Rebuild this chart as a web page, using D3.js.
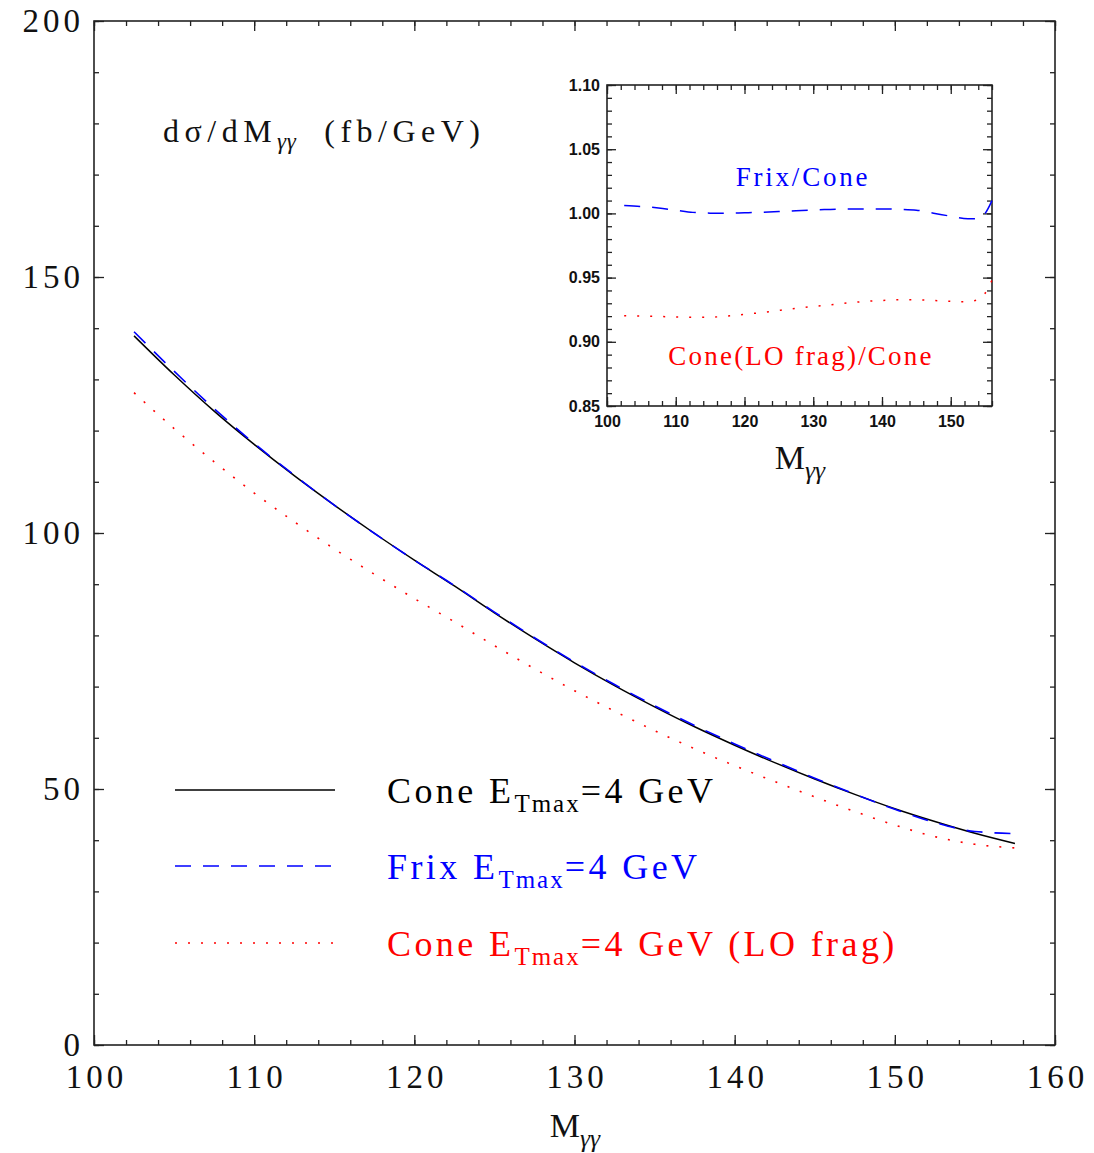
<!DOCTYPE html>
<html>
<head>
<meta charset="utf-8">
<script src="https://cdn.jsdelivr.net/npm/d3@7"></script>
<style>
  body { margin: 0; background: #fff; }
  svg { display: block; }
</style>
</head>
<body>
<svg id="chart" width="1094" height="1153"></svg>
<script>
// Diphoton invariant-mass distribution, three isolation prescriptions (fb/GeV)
const masses = [102.5, 105, 107.5, 110, 112.5, 115, 117.5, 120, 122.5, 125, 127.5, 130,
                132.5, 135, 137.5, 140, 142.5, 145, 147.5, 150, 152.5, 155, 157.5];
const coneXsec = [138.5, 130.9, 123.8, 117.3, 111.2, 105.45, 99.95, 94.7, 89.65, 84.4, 79.4, 74.65,
                  70.2, 66.05, 62.15, 58.55, 55.15, 51.95, 48.95, 46.15, 43.65, 41.35, 39.35];
const frixXsec = [139.3, 131.6, 124.3, 117.5, 111.3, 105.45, 99.95, 94.7, 89.75, 84.55, 79.55, 74.8,
                  70.4, 66.25, 62.4, 58.8, 55.4, 52.1, 49.0, 46.05, 43.45, 41.7, 41.3];
const loFragXsec = [127.4, 120.4, 113.9, 107.8, 102.2, 96.9, 91.95, 87.2, 82.65, 78.0, 73.5, 69.2,
                    65.2, 61.4, 57.85, 54.55, 51.45, 48.45, 45.6, 42.95, 40.7, 39.2, 38.5];

// Ratios to the cone result
const ratioMasses = [102.5, 105, 107.5, 110, 112.5, 115, 117.5, 120, 122.5, 125, 127.5, 130,
                     132.5, 135, 137.5, 140, 142.5, 145, 147.5, 150, 152.5, 154, 155, 156];
const frixRatio = [1.0062, 1.0054, 1.0042, 1.0025, 1.0008, 1.0002, 1.0001, 1.0005, 1.0009, 1.0014, 1.0021, 1.0027,
                   1.0031, 1.0034, 1.0035, 1.0035, 1.0031, 1.0025, 1.0002, 0.9978, 0.9958, 0.9960, 1.0000, 1.0100];
const loFragRatio = [0.9203, 0.9200, 0.9197, 0.9194, 0.9191, 0.9192, 0.9200, 0.9214, 0.9228, 0.9244, 0.9260, 0.9275,
                     0.9288, 0.9303, 0.9314, 0.9322, 0.9327, 0.9327, 0.9322, 0.9315, 0.9312, 0.9330, 0.9378, 0.9480];

const mainXTicks = [100, 110, 120, 130, 140, 150, 160];
const mainYTicks = [0, 50, 100, 150, 200];
const insetXTicks = [100, 110, 120, 130, 140, 150];
const insetYTicks = [0.85, 0.90, 0.95, 1.00, 1.05, 1.10];

const svg = d3.select("#chart");
const serif = "'Liberation Serif', 'Times New Roman', serif";

// Framed panel with inward ticks on all four sides
function drawFrame(g, x, y, opt) {
  const [x0, x1] = x.range();
  const [y0, y1] = y.range(); // y0 bottom, y1 top
  const xMinor = d3.range(x.domain()[0], x.domain()[1] + 1e-9, opt.xMinorStep);
  const yMinor = d3.range(y.domain()[0], y.domain()[1] + 1e-9, opt.yMinorStep);

  const sides = [
    { ax: d3.axisBottom, sc: x, t: `translate(0,${y0})`, major: opt.xTicks, minor: xMinor, labels: true },
    { ax: d3.axisTop, sc: x, t: `translate(0,${y1})`, major: opt.xTicks, minor: xMinor, labels: false },
    { ax: d3.axisLeft, sc: y, t: `translate(${x0},0)`, major: opt.yTicks, minor: yMinor, labels: true },
    { ax: d3.axisRight, sc: y, t: `translate(${x1},0)`, major: opt.yTicks, minor: yMinor, labels: false }
  ];
  sides.forEach((s, i) => {
    const minorG = g.append("g").attr("transform", s.t)
      .call(s.ax(s.sc).tickValues(s.minor).tickSize(-opt.minorLen).tickFormat(""));
    minorG.select(".domain").remove();
    const isX = i < 2;
    const majorG = g.append("g").attr("transform", s.t)
      .call(s.ax(s.sc).tickValues(s.major).tickSize(-opt.majorLen)
        .tickPadding(isX ? opt.xPad : opt.yPad)
        .tickFormat(s.labels ? (isX ? opt.xFmt : opt.yFmt) : ""));
    majorG.select(".domain").remove();
    g.selectAll(".tick line").attr("stroke", "#222").attr("stroke-width", 1.3);
    majorG.selectAll("text")
      .attr("font-family", opt.font).attr("font-size", opt.fontSize)
      .attr("font-weight", opt.fontWeight).attr("fill", "#111")
      .attr("letter-spacing", opt.letterSpacing);
    if (isX && opt.letterSpacing) {
      // keep spaced labels centred on their ticks
      majorG.selectAll("text").attr("dx", opt.letterSpacing / 2);
    }
  });
  g.append("rect").attr("x", x0).attr("y", y1)
    .attr("width", x1 - x0).attr("height", y0 - y1)
    .attr("fill", "none").attr("stroke", "#222").attr("stroke-width", 1.6);
}

// ---------- main panel ----------
const x = d3.scaleLinear().domain([100, 160]).range([94, 1055]);
const y = d3.scaleLinear().domain([0, 200]).range([1045, 21]);
const mainG = svg.append("g");
drawFrame(mainG, x, y, {
  xTicks: mainXTicks, yTicks: mainYTicks, xMinorStep: 2, yMinorStep: 10,
  majorLen: 10, minorLen: 5, xPad: 20, yPad: 10,
  xFmt: d3.format("d"), yFmt: d3.format("d"),
  font: serif, fontSize: 33, fontWeight: "normal", letterSpacing: 4
});

const line = d3.line().x(d => x(d[0])).y(d => y(d[1])).curve(d3.curveMonotoneX);
const series = [
  { values: coneXsec, color: "#000", dash: null, width: 1.5 },
  { values: frixXsec, color: "#0000ff", dash: "16,12", width: 1.6 },
  { values: loFragXsec, color: "#ff0000", dash: "2,11", width: 1.6 }
];
series.forEach(s => {
  mainG.append("path")
    .datum(masses.map((m, i) => [m, s.values[i]]))
    .attr("d", line).attr("fill", "none")
    .attr("stroke", s.color).attr("stroke-width", s.width)
    .attr("stroke-dasharray", s.dash);
});

// y-axis title inside the panel
const title = mainG.append("text").attr("x", 163).attr("y", 142)
  .attr("font-family", serif).attr("font-size", 32).attr("letter-spacing", 5.5).attr("fill", "#111");
title.append("tspan").text("dσ/dM");
title.append("tspan").attr("font-size", 23).attr("font-style", "italic").attr("dy", 7).attr("letter-spacing", 0.5).text("γγ");
title.append("tspan").attr("dy", -7).attr("dx", 28).text("(fb/GeV)");

// axis titles M_γγ
function massLabel(g, cx, baseline, size) {
  const t = g.append("text").attr("x", cx).attr("y", baseline).attr("text-anchor", "middle")
    .attr("font-family", serif).attr("font-size", size).attr("fill", "#111");
  t.append("tspan").text("M");
  t.append("tspan").attr("font-size", size * 0.75).attr("font-style", "italic").attr("dy", size * 0.28).text("γγ");
}
massLabel(mainG, 575, 1137, 34);

// legend
const legendRows = [
  { y: 790, color: "#000", dash: null, name: "Cone E", tail: "=4 GeV" },
  { y: 866, color: "#0000ff", dash: "16,12", name: "Frix E", tail: "=4 GeV" },
  { y: 943, color: "#ff0000", dash: "2,11", name: "Cone E", tail: "=4 GeV (LO frag)" }
];
legendRows.forEach(r => {
  mainG.append("line").attr("x1", 175).attr("x2", 335).attr("y1", r.y).attr("y2", r.y)
    .attr("stroke", r.color).attr("stroke-width", 1.6).attr("stroke-dasharray", r.dash);
  const t = mainG.append("text").attr("x", 387).attr("y", r.y + 13)
    .attr("font-family", serif).attr("font-size", 36).attr("letter-spacing", 3.4).attr("fill", r.color);
  t.append("tspan").text(r.name);
  t.append("tspan").attr("font-size", 25).attr("dy", 9).attr("letter-spacing", 2).text("Tmax");
  t.append("tspan").attr("dy", -9).text(r.tail);
});

// ---------- inset: ratios to the cone prescription ----------
const xi = d3.scaleLinear().domain([100, 156]).range([607, 992]);
const yi = d3.scaleLinear().domain([0.85, 1.10]).range([406, 85]);
const insetG = svg.append("g");
insetG.append("rect").attr("x", 607).attr("y", 85).attr("width", 385).attr("height", 321).attr("fill", "#fff");
drawFrame(insetG, xi, yi, {
  xTicks: insetXTicks, yTicks: insetYTicks, xMinorStep: 2, yMinorStep: 0.01,
  majorLen: 9, minorLen: 5, xPad: 10, yPad: 7,
  xFmt: d3.format("d"), yFmt: d3.format(".2f"),
  font: "'Liberation Sans', Arial, sans-serif", fontSize: 16, fontWeight: "bold", letterSpacing: 0
});

const lineI = d3.line().x(d => xi(d[0])).y(d => yi(d[1])).curve(d3.curveMonotoneX);
[
  { values: frixRatio, color: "#0000ff", dash: "16,12" },
  { values: loFragRatio, color: "#ff0000", dash: "2,11" }
].forEach(s => {
  insetG.append("path")
    .datum(ratioMasses.map((m, i) => [m, s.values[i]]))
    .attr("d", lineI).attr("fill", "none")
    .attr("stroke", s.color).attr("stroke-width", 1.5)
    .attr("stroke-dasharray", s.dash);
});

insetG.append("text").attr("x", 803).attr("y", 186).attr("text-anchor", "middle")
  .attr("font-family", serif).attr("font-size", 27).attr("letter-spacing", 2.8).attr("fill", "#0000ff").text("Frix/Cone");
insetG.append("text").attr("x", 801).attr("y", 365).attr("text-anchor", "middle")
  .attr("font-family", serif).attr("font-size", 27).attr("letter-spacing", 2.2).attr("fill", "#ff0000").text("Cone(LO frag)/Cone");
massLabel(insetG, 800, 469, 34);
</script>
</body>
</html>
